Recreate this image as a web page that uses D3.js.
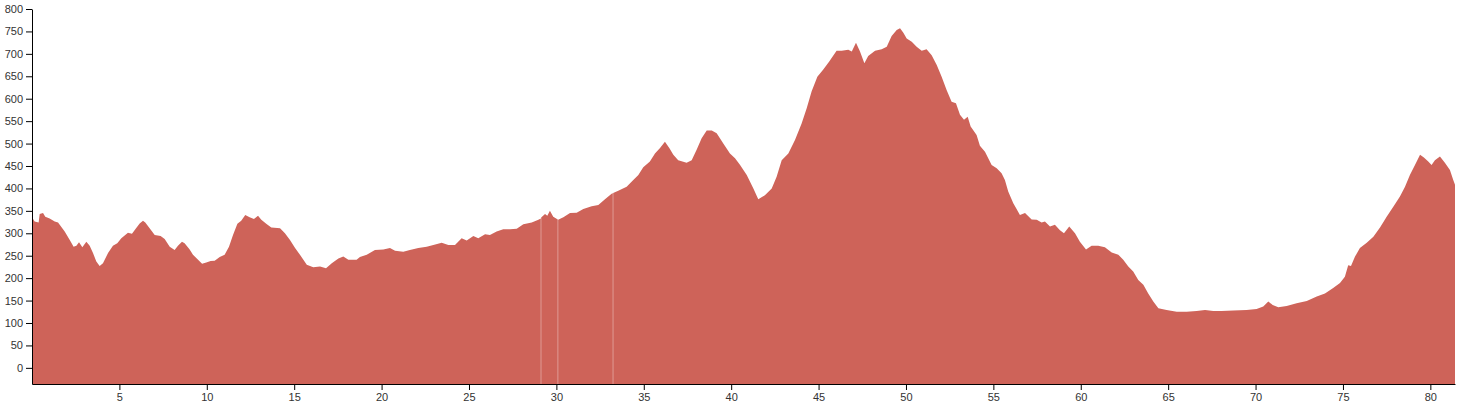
<!DOCTYPE html>
<html>
<head>
<meta charset="utf-8">
<script src="https://cdn.jsdelivr.net/npm/d3@7/dist/d3.min.js"></script>
<style>
  html, body { margin: 0; padding: 0; background: #fff; }
  svg { display: block; }
  .axis text { font-family: "Liberation Sans", Arial, sans-serif; font-size: 11px; fill: #333; }
  .axis path, .axis line { stroke: #000; }
</style>
</head>
<body>
<svg id="chart" width="1460" height="409"></svg>
<script>
// Distance along the route (km)
const distKm = [
  0.00,0.15,0.38,0.44,0.63,0.76,1.01,1.30,1.49,1.87,2.16,2.38,2.54,2.69,2.88,3.11,3.30,3.49,3.68,3.87,
  4.06,4.35,4.63,4.88,5.11,5.49,5.72,5.91,6.16,6.35,6.48,6.73,7.02,7.36,7.59,7.88,8.16,8.35,8.58,8.73,
  9.02,9.21,9.50,9.73,9.97,10.22,10.45,10.74,11.02,11.27,11.50,11.75,11.97,12.20,12.45,12.70,12.93,13.12,13.40,13.69,
  14.03,14.19,14.47,14.76,15.05,15.33,15.72,16.09,16.48,16.82,17.15,17.53,17.81,18.10,18.57,18.76,19.15,19.62,20.10,20.48,
  20.77,21.24,21.62,22.10,22.58,22.96,23.44,23.82,24.20,24.58,24.87,25.25,25.53,25.92,26.20,26.58,26.96,27.35,27.73,28.11,
  28.59,28.97,29.11,29.12,29.13,29.35,29.48,29.63,29.82,30.08,30.09,30.10,30.40,30.78,31.16,31.54,32.02,32.40,32.78,33.16,
  33.23,33.24,33.25,33.54,34.02,34.40,34.69,34.97,35.35,35.64,35.93,36.21,36.46,36.69,36.97,37.45,37.74,38.03,38.31,38.60,
  38.89,39.17,39.55,39.93,40.22,40.50,40.89,41.27,41.55,41.93,42.32,42.60,42.89,43.27,43.65,44.03,44.32,44.60,44.93,45.27,
  45.61,46.03,46.32,46.70,46.90,47.14,47.37,47.62,47.84,48.23,48.61,48.90,49.18,49.47,49.66,49.85,50.04,50.33,50.61,50.90,
  51.18,51.47,51.76,52.04,52.33,52.61,52.86,53.09,53.32,53.53,53.70,54.04,54.23,54.52,54.90,55.19,55.47,55.66,55.85,56.14,
  56.52,56.81,57.19,57.48,57.76,57.95,58.24,58.52,58.81,59.04,59.34,59.67,59.95,60.30,60.62,61.00,61.38,61.77,62.15,62.43,
  62.72,63.00,63.29,63.58,63.86,64.15,64.44,64.91,65.49,66.06,66.63,67.11,67.58,68.06,68.73,69.49,70.06,70.44,70.73,70.98,
  71.30,71.78,72.35,72.93,73.50,73.97,74.44,74.83,75.11,75.30,75.46,75.69,75.97,76.36,76.74,77.12,77.50,77.88,78.26,78.55,
  78.83,79.12,79.41,79.63,79.88,80.07,80.26,80.55,80.83,81.12,81.31,81.41
];
// Elevation (m); null marks a break in the recorded track
const elevM = [
  336,326,324,343,345,337,333,326,324,304,285,270,272,280,269,281,272,256,237,227,
  233,256,272,278,289,301,299,309,322,328,324,311,296,294,287,270,263,272,281,278,
  264,252,241,232,235,238,239,247,252,270,296,321,328,341,336,332,339,330,321,313,
  312,311,300,285,267,252,230,224,226,222,233,244,248,241,241,247,252,263,264,267,
  261,259,263,267,270,274,279,274,274,289,284,294,289,298,296,304,309,309,310,320,
  324,330,333,null,335,343,339,350,337,331,null,330,336,345,346,354,360,363,376,388,
  389,null,390,395,404,419,430,447,460,478,490,504,490,475,463,457,463,487,512,529,
  529,523,500,478,467,453,430,400,376,385,400,426,463,478,508,545,579,616,649,665,
  683,707,707,709,705,725,705,679,695,707,710,716,740,753,757,747,734,727,716,707,
  710,697,675,649,619,593,590,564,553,560,538,519,495,482,452,445,434,419,393,367,
  341,345,331,330,324,326,315,319,307,300,315,300,281,264,272,272,269,257,252,241,
  226,215,196,185,166,148,133,129,125,125,127,129,127,127,128,129,131,137,148,140,
  135,138,144,149,159,166,178,189,203,229,227,248,267,279,292,313,337,359,382,404,
  430,452,475,469,460,452,463,471,457,441,419,408
];
const xTicks = [5,10,15,20,25,30,35,40,45,50,55,60,65,70,75,80];
const yTicks = [0,50,100,150,200,250,300,350,400,450,500,550,600,650,700,750,800];

const svg = d3.select("#chart");
const margin = {top: 9, right: 5, bottom: 25, left: 32};
const W = 1460, H = 409;
const innerW = W - margin.left - margin.right;
const innerH = H - margin.top - margin.bottom;

const data = distKm.map((d, i) => ({d, e: elevM[i]}));

const x = d3.scaleLinear().domain([0, d3.max(distKm)]).range([0, innerW]);
const y = d3.scaleLinear().domain([-36, 800]).range([innerH, 0]);

const g = svg.append("g").attr("transform", `translate(${margin.left},${margin.top})`);

const area = d3.area()
  .defined(p => p.e !== null)
  .x(p => x(p.d))
  .y0(innerH)
  .y1(p => y(p.e));

g.append("path")
  .datum(data)
  .attr("fill", "#CE6359")
  .attr("d", area);

g.append("g")
  .attr("class", "axis")
  .attr("transform", `translate(0,${innerH})`)
  .call(d3.axisBottom(x).tickValues(xTicks).tickFormat(d3.format("d")).tickSizeOuter(0));

g.append("g")
  .attr("class", "axis")
  .call(d3.axisLeft(y).tickValues(yTicks).tickFormat(d3.format("d")).tickSizeOuter(0));
</script>
</body>
</html>
